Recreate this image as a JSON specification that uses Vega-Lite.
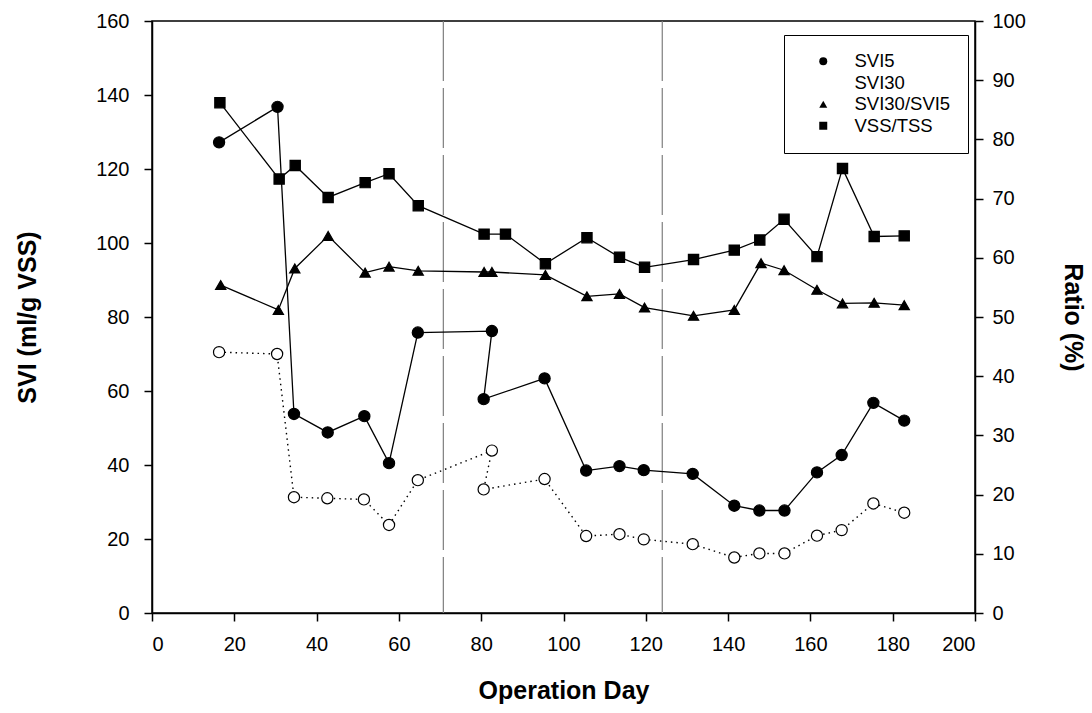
{
  "$schema": "https://vega.github.io/schema/vega-lite/v6.json",
  "width": 823,
  "height": 592,
  "autosize": {"type": "none"},
  "padding": {"left": 152, "top": 21, "right": 117, "bottom": 100},
  "background": "white",
  "config": {
    "font": "Liberation Sans",
    "view": {"stroke": "black", "strokeWidth": 1.5},
    "axis": {
      "grid": false,
      "domainColor": "black",
      "domainWidth": 1.5,
      "tickColor": "black",
      "tickWidth": 1.5,
      "tickSize": 8,
      "labelFont": "Liberation Sans",
      "labelFontSize": 20,
      "labelColor": "black",
      "titleFont": "Liberation Sans",
      "titleFontSize": 25,
      "titleFontWeight": "bold",
      "titleColor": "black"
    },
    "legend": {
      "orient": "none", "legendX": 632, "legendY": 14,
      "strokeColor": "black", "padding": 17,
      "labelFontSize": 18.5, "labelFont": "Liberation Sans", "labelColor": "black",
      "symbolSize": 64, "symbolOffset": 13, "labelOffset": 22, "rowPadding": 2.5,
      "symbolStrokeWidth": 1.3, "symbolStrokeColor": "black"
    }
  },
  "datasets": {
    "phases": [{"day": 70.8}, {"day": 124.0}],
    "svi": [
      {"series": "SVI5", "seq": 1, "day": 16.3, "value": 127.2},
      {"series": "SVI5", "seq": 2, "day": 30.5, "value": 136.8},
      {"series": "SVI5", "seq": 3, "day": 34.5, "value": 53.8},
      {"series": "SVI5", "seq": 4, "day": 42.7, "value": 48.8},
      {"series": "SVI5", "seq": 5, "day": 51.6, "value": 53.2},
      {"series": "SVI5", "seq": 6, "day": 57.6, "value": 40.5},
      {"series": "SVI5", "seq": 7, "day": 64.6, "value": 75.8},
      {"series": "SVI5", "seq": 8, "day": 82.6, "value": 76.2},
      {"series": "SVI5", "seq": 9, "day": 80.6, "value": 57.8},
      {"series": "SVI5", "seq": 10, "day": 95.4, "value": 63.4},
      {"series": "SVI5", "seq": 11, "day": 105.5, "value": 38.5},
      {"series": "SVI5", "seq": 12, "day": 113.6, "value": 39.7},
      {"series": "SVI5", "seq": 13, "day": 119.5, "value": 38.6},
      {"series": "SVI5", "seq": 14, "day": 131.4, "value": 37.6},
      {"series": "SVI5", "seq": 15, "day": 141.5, "value": 29.0},
      {"series": "SVI5", "seq": 16, "day": 147.6, "value": 27.7},
      {"series": "SVI5", "seq": 17, "day": 153.7, "value": 27.7},
      {"series": "SVI5", "seq": 18, "day": 161.6, "value": 38.0},
      {"series": "SVI5", "seq": 19, "day": 167.6, "value": 42.7},
      {"series": "SVI5", "seq": 20, "day": 175.3, "value": 56.8},
      {"series": "SVI5", "seq": 21, "day": 182.8, "value": 52.0},
      {"series": "SVI30", "seq": 1, "day": 16.3, "value": 70.5},
      {"series": "SVI30", "seq": 2, "day": 30.4, "value": 70.0},
      {"series": "SVI30", "seq": 3, "day": 34.5, "value": 31.3},
      {"series": "SVI30", "seq": 4, "day": 42.6, "value": 31.0},
      {"series": "SVI30", "seq": 5, "day": 51.5, "value": 30.7},
      {"series": "SVI30", "seq": 6, "day": 57.6, "value": 23.8},
      {"series": "SVI30", "seq": 7, "day": 64.6, "value": 35.9},
      {"series": "SVI30", "seq": 8, "day": 82.6, "value": 43.9},
      {"series": "SVI30", "seq": 9, "day": 80.6, "value": 33.4},
      {"series": "SVI30", "seq": 10, "day": 95.4, "value": 36.2},
      {"series": "SVI30", "seq": 11, "day": 105.5, "value": 20.8},
      {"series": "SVI30", "seq": 12, "day": 113.6, "value": 21.3},
      {"series": "SVI30", "seq": 13, "day": 119.5, "value": 19.9},
      {"series": "SVI30", "seq": 14, "day": 131.4, "value": 18.6},
      {"series": "SVI30", "seq": 15, "day": 141.5, "value": 15.0},
      {"series": "SVI30", "seq": 16, "day": 147.6, "value": 16.1},
      {"series": "SVI30", "seq": 17, "day": 153.7, "value": 16.1},
      {"series": "SVI30", "seq": 18, "day": 161.6, "value": 20.9},
      {"series": "SVI30", "seq": 19, "day": 167.6, "value": 22.4},
      {"series": "SVI30", "seq": 20, "day": 175.3, "value": 29.6},
      {"series": "SVI30", "seq": 21, "day": 182.8, "value": 27.1}
    ],
    "ratio": [
      {"series": "SVI30/SVI5", "seq": 1, "day": 16.7, "value": 55.4},
      {"series": "SVI30/SVI5", "seq": 2, "day": 30.7, "value": 51.2},
      {"series": "SVI30/SVI5", "seq": 3, "day": 34.7, "value": 58.2},
      {"series": "SVI30/SVI5", "seq": 4, "day": 42.8, "value": 63.7},
      {"series": "SVI30/SVI5", "seq": 5, "day": 51.8, "value": 57.5},
      {"series": "SVI30/SVI5", "seq": 6, "day": 57.6, "value": 58.5},
      {"series": "SVI30/SVI5", "seq": 7, "day": 64.7, "value": 57.8},
      {"series": "SVI30/SVI5", "seq": 8, "day": 80.7, "value": 57.6},
      {"series": "SVI30/SVI5", "seq": 9, "day": 82.6, "value": 57.6},
      {"series": "SVI30/SVI5", "seq": 10, "day": 95.6, "value": 57.1},
      {"series": "SVI30/SVI5", "seq": 11, "day": 105.7, "value": 53.5},
      {"series": "SVI30/SVI5", "seq": 12, "day": 113.6, "value": 53.9},
      {"series": "SVI30/SVI5", "seq": 13, "day": 119.7, "value": 51.6},
      {"series": "SVI30/SVI5", "seq": 14, "day": 131.6, "value": 50.2},
      {"series": "SVI30/SVI5", "seq": 15, "day": 141.5, "value": 51.2},
      {"series": "SVI30/SVI5", "seq": 16, "day": 148.0, "value": 59.1},
      {"series": "SVI30/SVI5", "seq": 17, "day": 153.6, "value": 57.9},
      {"series": "SVI30/SVI5", "seq": 18, "day": 161.6, "value": 54.6},
      {"series": "SVI30/SVI5", "seq": 19, "day": 167.8, "value": 52.3},
      {"series": "SVI30/SVI5", "seq": 20, "day": 175.5, "value": 52.4},
      {"series": "SVI30/SVI5", "seq": 21, "day": 182.8, "value": 52.0},
      {"series": "VSS/TSS", "seq": 1, "day": 16.5, "value": 86.2},
      {"series": "VSS/TSS", "seq": 2, "day": 30.9, "value": 73.3},
      {"series": "VSS/TSS", "seq": 3, "day": 34.8, "value": 75.6},
      {"series": "VSS/TSS", "seq": 4, "day": 42.8, "value": 70.2},
      {"series": "VSS/TSS", "seq": 5, "day": 51.8, "value": 72.7},
      {"series": "VSS/TSS", "seq": 6, "day": 57.6, "value": 74.2},
      {"series": "VSS/TSS", "seq": 7, "day": 64.7, "value": 68.8},
      {"series": "VSS/TSS", "seq": 8, "day": 80.7, "value": 64.0},
      {"series": "VSS/TSS", "seq": 9, "day": 85.9, "value": 64.0},
      {"series": "VSS/TSS", "seq": 10, "day": 95.6, "value": 59.0},
      {"series": "VSS/TSS", "seq": 11, "day": 105.7, "value": 63.4},
      {"series": "VSS/TSS", "seq": 12, "day": 113.6, "value": 60.1},
      {"series": "VSS/TSS", "seq": 13, "day": 119.7, "value": 58.4},
      {"series": "VSS/TSS", "seq": 14, "day": 131.6, "value": 59.7},
      {"series": "VSS/TSS", "seq": 15, "day": 141.5, "value": 61.3},
      {"series": "VSS/TSS", "seq": 16, "day": 147.7, "value": 63.0},
      {"series": "VSS/TSS", "seq": 17, "day": 153.6, "value": 66.5},
      {"series": "VSS/TSS", "seq": 18, "day": 161.6, "value": 60.2},
      {"series": "VSS/TSS", "seq": 19, "day": 167.8, "value": 75.1},
      {"series": "VSS/TSS", "seq": 20, "day": 175.5, "value": 63.6},
      {"series": "VSS/TSS", "seq": 21, "day": 182.8, "value": 63.7}
    ]
  },
  "layer": [
    {
      "data": {"name": "phases"},
      "mark": {"type": "rule", "color": "#7f7f7f", "strokeWidth": 1.2, "strokeDash": [60, 7]},
      "encoding": {
        "x": {"field": "day", "type": "quantitative", "scale": {"domain": [0, 200]},
              "axis": {"title": "Operation Day", "values": [0, 20, 40, 60, 80, 100, 120, 140, 160, 180, 200], "labelPadding": 13, "titlePadding": 24}}
      }
    },
    {
      "data": {"name": "svi"},
      "encoding": {
        "x": {"field": "day", "type": "quantitative", "scale": {"domain": [0, 200]},
              "axis": {"title": "Operation Day", "values": [0, 20, 40, 60, 80, 100, 120, 140, 160, 180, 200], "labelPadding": 13, "titlePadding": 24}},
        "y": {"field": "value", "type": "quantitative", "scale": {"domain": [0, 160]},
              "axis": {"orient": "left", "title": "SVI (ml/g VSS)", "values": [0, 20, 40, 60, 80, 100, 120, 140, 160], "labelPadding": 15, "titlePadding": 55}}
      },
      "layer": [
        {
          "transform": [{"filter": "datum.series === 'SVI5'"}],
          "mark": {"type": "line", "color": "black", "strokeWidth": 1.3},
          "encoding": {
            "order": {"field": "seq", "type": "quantitative"}
          }
        },
        {
          "transform": [{"filter": "datum.series === 'SVI30'"}],
          "mark": {"type": "line", "color": "black", "strokeWidth": 1.4, "strokeDash": [1.5, 4]},
          "encoding": {
            "order": {"field": "seq", "type": "quantitative"}
          }
        },
        {
          "mark": {"type": "point", "stroke": "black", "strokeWidth": 1.2, "opacity": 1, "size": 125},
          "encoding": {
            "shape": {"field": "series", "type": "nominal",
                      "scale": {"domain": ["SVI5", "SVI30", "SVI30/SVI5", "VSS/TSS"], "range": ["circle", "circle", "triangle-up", "square"]},
                      "legend": {"title": null, "symbolStrokeColor": "black"}},
            "fill": {"field": "series", "type": "nominal",
                     "scale": {"domain": ["SVI5", "SVI30", "SVI30/SVI5", "VSS/TSS"], "range": ["black", "white", "black", "black"]},
                     "legend": {"title": null, "symbolStrokeColor": "black"}}
          }
        }
      ]
    },
    {
      "data": {"name": "ratio"},
      "encoding": {
        "x": {"field": "day", "type": "quantitative", "scale": {"domain": [0, 200]},
              "axis": {"title": "Operation Day", "values": [0, 20, 40, 60, 80, 100, 120, 140, 160, 180, 200], "labelPadding": 13, "titlePadding": 24}},
        "y": {"field": "value", "type": "quantitative", "scale": {"domain": [0, 100]},
              "axis": {"orient": "right", "title": "Ratio (%)", "values": [0, 10, 20, 30, 40, 50, 60, 70, 80, 90, 100], "labelPadding": 9, "titlePadding": 34}}
      },
      "layer": [
        {
          "mark": {"type": "line", "color": "black", "strokeWidth": 1.3},
          "encoding": {
            "detail": {"field": "series", "type": "nominal"},
            "order": {"field": "seq", "type": "quantitative"}
          }
        },
        {
          "mark": {"type": "point", "stroke": "black", "strokeWidth": 1.2, "opacity": 1, "size": 105},
          "encoding": {
            "shape": {"field": "series", "type": "nominal", "legend": {"title": null, "symbolStrokeColor": "black"}},
            "fill": {"field": "series", "type": "nominal", "legend": {"title": null, "symbolStrokeColor": "black"}}
          }
        }
      ]
    }
  ],
  "resolve": {"scale": {"y": "independent"}}
}
